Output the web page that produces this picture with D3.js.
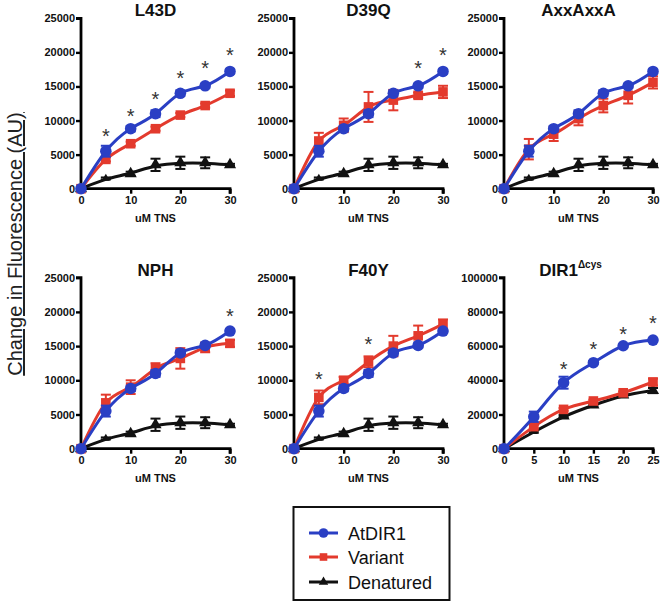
<!DOCTYPE html>
<html><head><meta charset="utf-8">
<script src="https://cdn.jsdelivr.net/npm/d3@7"></script>
<style>body{margin:0;background:#fff;} svg{display:block;font-family:"Liberation Sans",Arial,sans-serif;}</style>
</head><body>
<svg id="c" width="666" height="609"></svg>
<script>
// ---- data ----
const xTNS = [0,5,10,15,20,25,30];
const xTNSdir = [0,5,10,15,20,25];
const panelTitles = ["L43D","D39Q","AxxAxxA","NPH","F40Y","DIR1"];
const yTicksStd = [0,5000,10000,15000,20000,25000];
const yTicksDir = [0,20000,40000,60000,80000,100000];
const xTicksStd = [0,10,20,30];
const xTicksDir = [0,5,10,15,20,25];

const atdir1 = [0,5500,8800,11000,14000,15100,17200];
const atdir1Err = [0,800,400,500,400,300,300];
const denatured = [0,1500,2200,3500,3800,3800,3500];
const denaturedErr = [0,150,300,900,900,800,150];

const variantL43D = [0,4300,6600,8800,10800,12200,14000];
const variantL43DErr = [0,300,300,300,300,300,400];
const variantD39Q = [0,7000,9300,12000,13000,13700,14200];
const variantD39QErr = [0,1200,1000,2200,1500,400,900];
const variantAxx = [0,5800,8000,10300,12200,13700,15600];
const variantAxxErr = [0,1500,1000,1000,1000,1200,900];
const variantNPH = [0,6700,9000,11700,13200,14800,15400];
const variantNPHErr = [0,1200,1000,800,1500,700,500];
const variantF40Y = [0,7500,10000,12700,15000,16500,18200];
const variantF40YErr = [0,1000,500,800,1500,1500,700];

const dirAtdir1 = [0,18700,38600,50300,60200,63500];
const dirAtdir1Err = [0,3000,3500,800,800,800];
const dirVariant = [0,12900,23000,27900,32700,39000];
const dirVariantErr = [0,1000,800,800,800,2000];
const dirDenatured = [0,9900,19100,25500,31400,34000];
const dirDenaturedErr = [0,600,600,600,600,1500];

// significance asterisks: [x, y]
const starsL43D = [[5,8100],[10,11150],[15,13600],[20,16700],[25,18150],[30,20100]];
const starsD39Q = [[25,18150],[30,20100]];
const starsAxx = [];
const starsNPH = [[30,19900]];
const starsF40Y = [[5,10600],[15,15700]];
const starsDir = [[10,48300],[15,60000],[20,69000],[25,75200]];

const legendLabels = ["AtDIR1","Variant","Denatured"];
const colors = {blue:"#2a3fc4", red:"#e33a2d", black:"#111111"};

const panels = [
  {title:panelTitles[0], x:xTNS, xt:xTicksStd, xmax:30, yt:yTicksStd, ymax:25000, blue:atdir1, blueE:atdir1Err, red:variantL43D, redE:variantL43DErr, black:denatured, blackE:denaturedErr, stars:starsL43D, col:0,row:0},
  {title:panelTitles[1], x:xTNS, xt:xTicksStd, xmax:30, yt:yTicksStd, ymax:25000, blue:atdir1, blueE:atdir1Err, red:variantD39Q, redE:variantD39QErr, black:denatured, blackE:denaturedErr, stars:starsD39Q, col:1,row:0},
  {title:panelTitles[2], x:xTNS, xt:xTicksStd, xmax:30, yt:yTicksStd, ymax:25000, blue:atdir1, blueE:atdir1Err, red:variantAxx, redE:variantAxxErr, black:denatured, blackE:denaturedErr, stars:starsAxx, col:2,row:0},
  {title:panelTitles[3], x:xTNS, xt:xTicksStd, xmax:30, yt:yTicksStd, ymax:25000, blue:atdir1, blueE:atdir1Err, red:variantNPH, redE:variantNPHErr, black:denatured, blackE:denaturedErr, stars:starsNPH, col:0,row:1},
  {title:panelTitles[4], x:xTNS, xt:xTicksStd, xmax:30, yt:yTicksStd, ymax:25000, blue:atdir1, blueE:atdir1Err, red:variantF40Y, redE:variantF40YErr, black:denatured, blackE:denaturedErr, stars:starsF40Y, col:1,row:1},
  {title:panelTitles[5], x:xTNSdir, xt:xTicksDir, xmax:25, yt:yTicksDir, ymax:100000, blue:dirAtdir1, blueE:dirAtdir1Err, red:dirVariant, redE:dirVariantErr, black:dirDenatured, blackE:dirDenaturedErr, stars:starsDir, col:2,row:1, sup:"Δcys"}
];

// ---- layout ----
const colX = [[81,230],[294,443],[504,653]];
const rowY = [[188.7,18.3],[448.7,277.7]];
const svg = d3.select("#c");

function marker(g, type, cx, cy, color, s){
  if(type==="circle") g.append("circle").attr("cx",cx).attr("cy",cy).attr("r",s).attr("fill",color);
  else if(type==="square") g.append("rect").attr("x",cx-s).attr("y",cy-s).attr("width",2*s).attr("height",2*s).attr("fill",color);
  else g.append("path").attr("d",d3.symbol(d3.symbolTriangle, s*s*2.2)()).attr("transform",`translate(${cx},${cy})`).attr("fill",color);
}

panels.forEach(p=>{
  const [x0,x1] = colX[p.col];
  const [y0,y1] = rowY[p.row];
  const xs = d3.scaleLinear().domain([0,p.xmax]).range([x0,x1]);
  const ys = d3.scaleLinear().domain([0,p.ymax]).range([y0,y1]);
  const g = svg.append("g");

  // axes
  const ya = g.append("g").attr("transform",`translate(${x0},0)`)
    .call(d3.axisLeft(ys).tickValues(p.yt).tickSize(5).tickPadding(1).tickFormat(d3.format("d")));
  const xa = g.append("g").attr("transform",`translate(0,${y0})`)
    .call(d3.axisBottom(xs).tickValues(p.xt).tickSize(5).tickPadding(3).tickFormat(d3.format("d")));
  [ya,xa].forEach(a=>{
    a.select(".domain").attr("stroke","#000").attr("stroke-width",2.8);
    a.selectAll(".tick line").attr("stroke","#000").attr("stroke-width",2.4);
    a.selectAll("text").attr("font-size",11).attr("font-weight","bold").attr("fill","#111");
  });
  ya.select(".domain").attr("d",`M-5,${y1}H0V${y0}`);
  xa.select(".domain").attr("d",`M${x0},0H${x1}V5`);

  // title
  const t = g.append("text").attr("x",(x0+x1)/2+ (p.sup?-8:0)).attr("y",y1-2).attr("text-anchor","middle")
    .attr("font-size",17).attr("font-weight","bold").attr("fill","#111").text(p.title);
  if(p.sup) t.append("tspan").attr("font-size",10).attr("dy",-8).text(p.sup);

  // x label
  g.append("text").attr("x",(x0+x1)/2).attr("y",y0+33).attr("text-anchor","middle")
    .attr("font-size",11).attr("font-weight","bold").attr("fill","#111").text("uM TNS");

  const series = [
    {v:p.black,e:p.blackE,c:colors.black,m:"tri",s:5.4,curve:d3.curveBasis},
    {v:p.red,e:p.redE,c:colors.red,m:"square",s:4.8,curve:d3.curveNatural},
    {v:p.blue,e:p.blueE,c:colors.blue,m:"circle",s:5.8,curve:d3.curveNatural}
  ];
  series.forEach(sr=>{
    const line = d3.line().x((d,i)=>xs(p.x[i])).y(d=>ys(d)).curve(sr.curve);
    g.append("path").attr("d",line(sr.v)).attr("fill","none").attr("stroke",sr.c).attr("stroke-width",3);
    sr.v.forEach((v,i)=>{
      const e = sr.e[i];
      if(e>0){
        const cx = xs(p.x[i]);
        g.append("line").attr("x1",cx).attr("x2",cx).attr("y1",ys(v-e)).attr("y2",ys(v+e)).attr("stroke",sr.c).attr("stroke-width",2);
        [v-e,v+e].forEach(ev=>g.append("line").attr("x1",cx-5).attr("x2",cx+5).attr("y1",ys(ev)).attr("y2",ys(ev)).attr("stroke",sr.c).attr("stroke-width",2));
      }
      marker(g, sr.m, xs(p.x[i]), ys(v), sr.c, (i===1&&sr.m==="tri")?3.6:sr.s);
    });
  });

  // asterisks
  p.stars.forEach(s=>{
    g.append("text").attr("x",xs(s[0])).attr("y",ys(s[1])+10).attr("text-anchor","middle")
      .attr("font-size",20).attr("fill","#333").text("*");
  });
});

// y-axis label
svg.append("text").attr("transform","translate(22,244) rotate(-90)").attr("text-anchor","middle")
  .attr("font-size",20).attr("fill","#222").attr("text-decoration","underline").text("Change in Fluorescence (AU)");

// legend
const lg = svg.append("g");
lg.append("rect").attr("x",293.5).attr("y",507).attr("width",156).attr("height",93).attr("fill","#fff").attr("stroke","#111").attr("stroke-width",2);
const legendColors = [colors.blue,colors.red,colors.black];
const legendMarkers = ["circle","square","tri"];
const legendY = [533,557,582];
legendLabels.forEach((l,i)=>{
  lg.append("line").attr("x1",309).attr("x2",338).attr("y1",legendY[i]).attr("y2",legendY[i]).attr("stroke",legendColors[i]).attr("stroke-width",3);
  marker(lg, legendMarkers[i], 323.5, legendY[i], legendColors[i], legendMarkers[i]==="circle"?4.8:(legendMarkers[i]==="square"?3.8:4.2));
  lg.append("text").attr("x",348).attr("y",legendY[i]+6.5).attr("font-size",18).attr("fill","#111").text(l);
});
</script>
</body></html>
